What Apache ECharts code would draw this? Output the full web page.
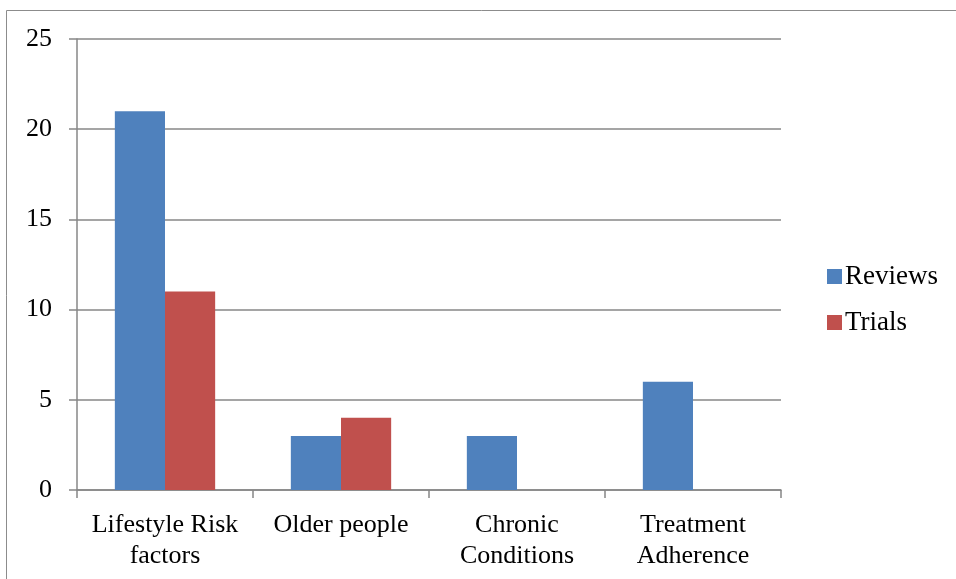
<!DOCTYPE html>
<html>
<head>
<meta charset="utf-8">
<script src="https://cdn.jsdelivr.net/npm/echarts@6/dist/echarts.min.js"></script>
<style>
  html, body { margin: 0; padding: 0; background: #fff; }
  #chart { width: 956px; height: 579px; }
</style>
</head>
<body>
<div id="chart"></div>
<script>
// Topic categories and counts per study type
const categories = ['Lifestyle Risk\nfactors', 'Older people', 'Chronic\nConditions', 'Treatment\nAdherence'];
const reviews = [21, 3, 3, 6];
const trials = [11, 4, 0, 0];
const yTicks = { min: 0, max: 25, interval: 5 };

const FONT = '"Liberation Serif", "DejaVu Serif", serif';
const GRID_COLOR = '#878787';

const chart = echarts.init(document.getElementById('chart'), null, { renderer: 'canvas' });
chart.setOption({
  animation: false,
  backgroundColor: '#fff',
  graphic: [{
    type: 'rect',
    shape: { x: 6.5, y: 10.5, width: 1000, height: 1000 },
    style: { fill: 'none', stroke: '#8c8c8c', lineWidth: 1 },
    silent: true
  }],
  grid: { left: 77, right: 175, top: 39, bottom: 89, containLabel: false },
  legend: {
    orient: 'vertical',
    left: 822,
    top: 258,
    itemWidth: 15,
    itemHeight: 15,
    itemGap: 19,
    icon: 'rect',
    textStyle: { fontFamily: FONT, fontSize: 27, color: '#000', padding: [0, 0, 0, -2] },
    data: ['Reviews', 'Trials']
  },
  xAxis: {
    type: 'category',
    data: categories,
    axisLine: { lineStyle: { color: GRID_COLOR, width: 1.5 } },
    axisTick: { show: true, length: 8, interval: 0, alignWithLabel: false, lineStyle: { color: GRID_COLOR, width: 1.5 } },
    axisLabel: { interval: 0, fontFamily: FONT, fontSize: 26, color: '#000', margin: 20, lineHeight: 31 }
  },
  yAxis: {
    type: 'value',
    min: yTicks.min, max: yTicks.max, interval: yTicks.interval,
    axisLine: { show: true, lineStyle: { color: GRID_COLOR, width: 1.5 } },
    axisTick: { show: true, length: 8, lineStyle: { color: GRID_COLOR, width: 1.5 } },
    splitLine: { show: true, lineStyle: { color: GRID_COLOR, width: 1.5 } },
    axisLabel: { fontFamily: FONT, fontSize: 26, color: '#000', margin: 25 }
  },
  series: [
    {
      name: 'Reviews', type: 'bar', data: reviews,
      barGap: '0%', barCategoryGap: '43%',
      itemStyle: { color: '#4F81BD' }
    },
    {
      name: 'Trials', type: 'bar', data: trials,
      barGap: '0%', barCategoryGap: '43%',
      itemStyle: { color: '#C0504D' }
    }
  ]
});
</script>
</body>
</html>
